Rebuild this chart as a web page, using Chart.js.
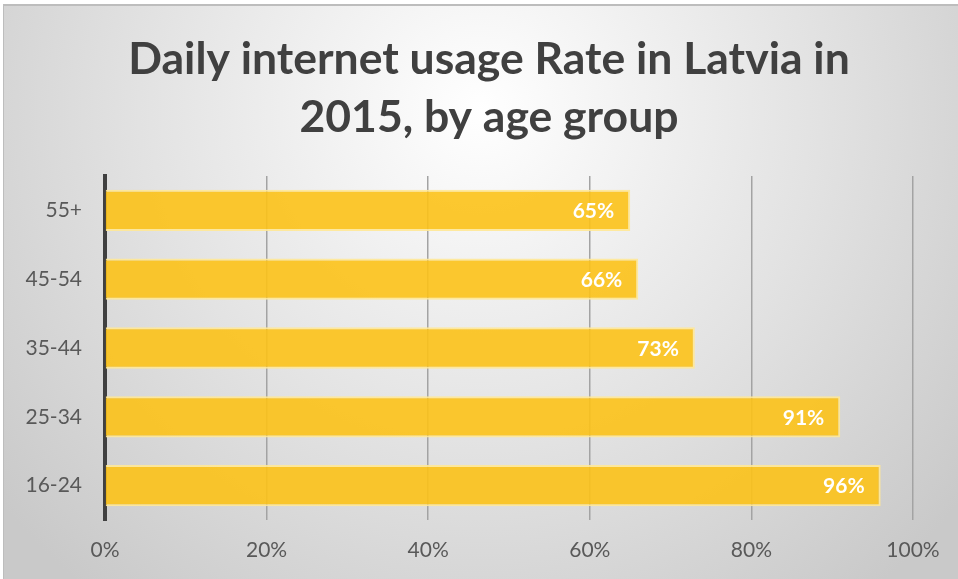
<!DOCTYPE html>
<html>
<head>
<meta charset="utf-8">
<script src="https://cdn.jsdelivr.net/npm/chart.js@4.4.1/dist/chart.umd.min.js"></script>
<style>
  html, body { margin: 0; padding: 0; background: #ffffff; }
  #wrap { position: absolute; left: 0; top: 0; width: 958px; height: 579px; }
</style>
</head>
<body>
<div id="wrap"><canvas id="chart" width="958" height="579"></canvas></div>
<script>
// Chart data
let ageGroups = ['55+', '45-54', '35-44', '25-34', '16-24'];
let usageRates = [65, 66, 73, 91, 96];
let titleLines = ['Daily internet usage Rate in Latvia in', '2015, by age group'];

// Grey radial background with a thin top border
const backgroundPlugin = {
    id: 'background',
    beforeDraw(chart) {
        let ctx = chart.ctx;
        ctx.save();
        let grad = ctx.createRadialGradient(480, 110, 0, 480, 110, 620);
        grad.addColorStop(0, '#ffffff');
        grad.addColorStop(0.55, '#e2e2e2');
        grad.addColorStop(1, '#c9c9c9');
        ctx.fillStyle = grad;
        ctx.fillRect(4, 5, chart.width - 4, chart.height - 5);
        ctx.fillStyle = '#bdbdbd';
        ctx.fillRect(4, 4, chart.width - 4, 2);
        ctx.fillRect(3, 4, 1, chart.height - 4);
        ctx.restore();
    }
};

// Two-line title, centred on the whole picture rather than the plot
const titlePlugin = {
    id: 'bigTitle',
    afterDraw(chart) {
        let ctx = chart.ctx;
        ctx.save();
        ctx.font = 'bold 44.5px Lato';
        ctx.fillStyle = '#404040';
        ctx.textAlign = 'center';
        ctx.textBaseline = 'middle';
        titleLines.forEach((line, i) => {
            ctx.fillText(line, 489, 60 + i * 58);
        });
        ctx.restore();
    }
};

// White value labels at the end of each bar
const valueLabelPlugin = {
    id: 'valueLabels',
    afterDatasetsDraw(chart) {
        let ctx = chart.ctx;
        let meta = chart.getDatasetMeta(0);
        ctx.save();
        ctx.font = 'bold 21px Lato';
        ctx.fillStyle = '#ffffff';
        ctx.textAlign = 'right';
        ctx.textBaseline = 'middle';
        meta.data.forEach((bar, i) => {
            ctx.fillText(usageRates[i] + '%', bar.x - 16, bar.y + 1);
        });
        ctx.restore();
    }
};

let ctx = document.getElementById('chart').getContext('2d');
let barChart = new Chart(ctx, {
    type: 'bar',
    data: {
        labels: ageGroups,
        datasets: [{
            data: usageRates,
            backgroundColor: 'rgba(252, 194, 24, 0.9)',
            borderColor: 'rgba(255, 232, 150, 0.9)',
            borderWidth: 2,
            borderSkipped: 'left',
            barPercentage: 0.6,
            categoryPercentage: 1.0
        }]
    },
    options: {
        indexAxis: 'y',
        responsive: false,
        animation: false,
        layout: { padding: { left: 0, right: 45, top: 176, bottom: 0 } },
        plugins: {
            legend: { display: false },
            tooltip: { enabled: false },
            title: { display: false }
        },
        scales: {
            x: {
                min: 0,
                max: 100,
                ticks: {
                    stepSize: 20,
                    padding: 18,
                    color: '#595959',
                    font: { family: 'Lato', size: 21 },
                    callback: v => v + '%'
                },
                grid: { color: '#a3a3a3', lineWidth: 1.5, drawTicks: false },
                border: { display: false },
                afterFit(scale) { scale.height = 59; }
            },
            y: {
                ticks: {
                    padding: 23,
                    color: '#595959',
                    font: { family: 'Lato', size: 21 }
                },
                grid: { display: false, drawTicks: false },
                border: { color: '#404040', width: 4 },
                afterFit(scale) { scale.width = 105; }
            }
        }
    },
    plugins: [backgroundPlugin, titlePlugin, valueLabelPlugin]
});
</script>
</body>
</html>
